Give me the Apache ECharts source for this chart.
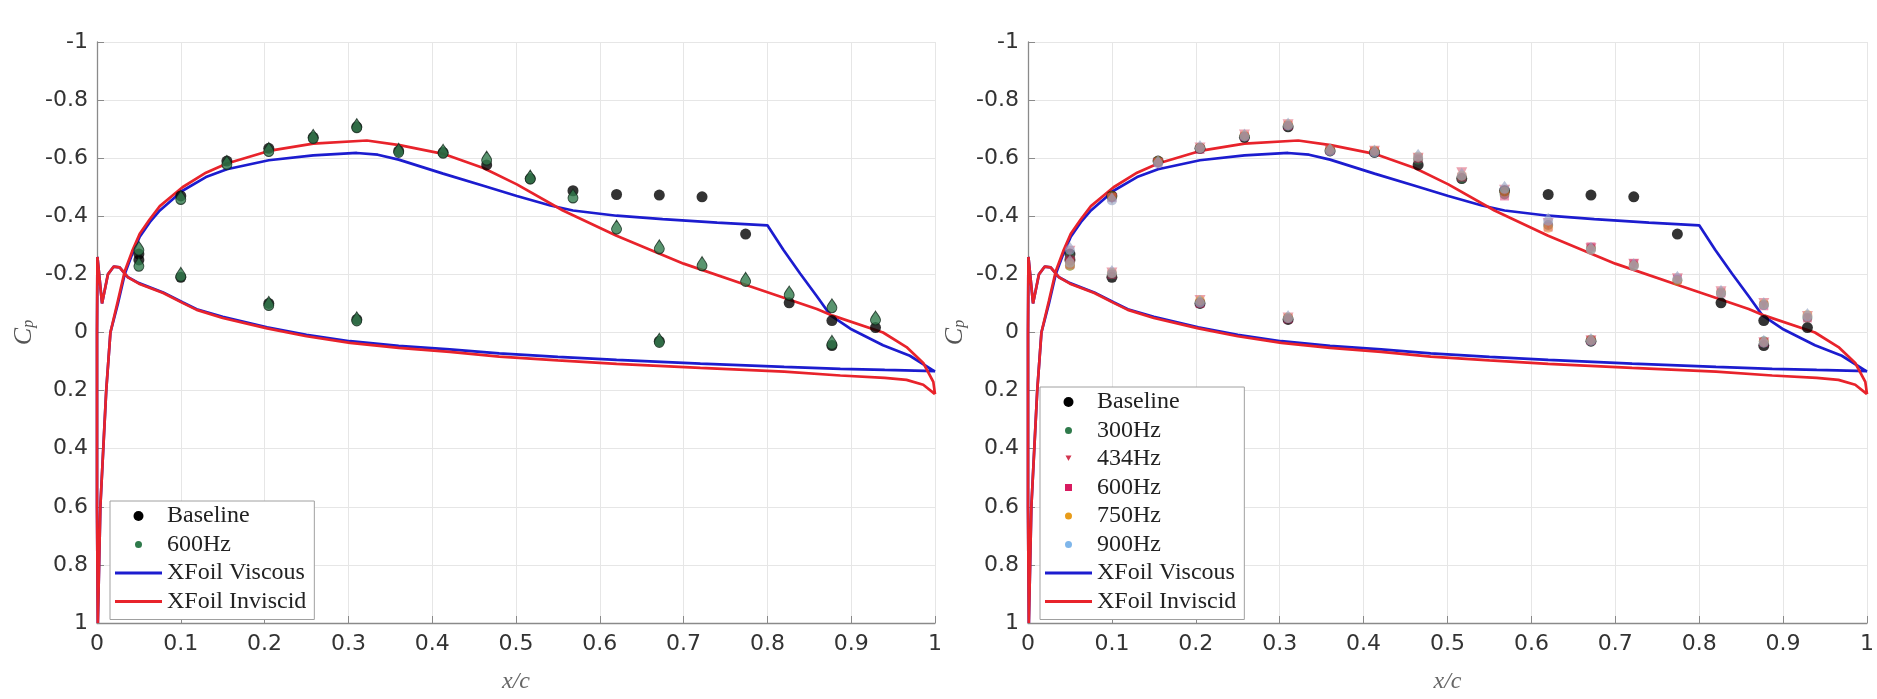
<!DOCTYPE html>
<html><head><meta charset="utf-8">
<script src="https://cdn.jsdelivr.net/npm/echarts@6/dist/echarts.min.js"></script>
<style>html,body{margin:0;padding:0;background:#fff}#c{width:1877px;height:699px}</style>
</head><body><div id="c"></div>
<script>
// ---- axes ----
const xTicks = [0, 0.1, 0.2, 0.3, 0.4, 0.5, 0.6, 0.7, 0.8, 0.9, 1];
const yTicks = [-1, -0.8, -0.6, -0.4, -0.2, 0, 0.2, 0.4, 0.6, 0.8, 1];

// ---- pressure tap locations (x/c) ----
const tapXUpper = [0.05, 0.1, 0.155, 0.205, 0.258, 0.31, 0.36, 0.413, 0.465, 0.517, 0.568, 0.62, 0.671, 0.722, 0.774, 0.826, 0.877, 0.929];
const tapXLower = [0.05, 0.1, 0.205, 0.31, 0.671, 0.877];

// ---- experimental Cp ----
const baselineUpper = [-0.27, -0.47, -0.59, -0.634, -0.672, -0.708, -0.625, -0.62, -0.577, -0.53, -0.488, -0.475, -0.473, -0.467, -0.339, -0.102, -0.041, -0.017];
const baselineLower = [-0.25, -0.19, -0.10, -0.045, 0.03, 0.045];

const hz600LeftUpper = [-0.29, -0.465, -0.585, -0.63, -0.675, -0.712, -0.627, -0.624, -0.60, -0.535, -0.47, -0.363, -0.295, -0.237, -0.183, -0.136, -0.092, -0.05];
const hz600LeftLower = [-0.235, -0.20, -0.10, -0.047, 0.027, 0.034];

const hz300Upper = [-0.26, -0.465, -0.585, -0.632, -0.675, -0.712, -0.628, -0.622, -0.595, -0.53, -0.475, -0.37, -0.29, -0.232, -0.18, -0.135, -0.095, -0.05];
const hz300Lower = [-0.23, -0.20, -0.105, -0.05, 0.025, 0.03];
const hz434Upper = [-0.28, -0.46, -0.58, -0.635, -0.68, -0.715, -0.625, -0.624, -0.60, -0.55, -0.49, -0.375, -0.288, -0.235, -0.185, -0.14, -0.10, -0.055];
const hz434Lower = [-0.24, -0.205, -0.11, -0.05, 0.028, 0.035];
const hz600Upper = [-0.25, -0.465, -0.585, -0.63, -0.675, -0.712, -0.627, -0.624, -0.60, -0.535, -0.47, -0.363, -0.295, -0.237, -0.183, -0.136, -0.092, -0.05];
const hz600Lower = [-0.235, -0.20, -0.10, -0.047, 0.027, 0.034];
const hz750Upper = [-0.24, -0.47, -0.59, -0.636, -0.678, -0.716, -0.63, -0.626, -0.605, -0.54, -0.485, -0.36, -0.285, -0.23, -0.178, -0.138, -0.098, -0.06];
const hz750Lower = [-0.23, -0.205, -0.11, -0.052, 0.026, 0.033];
const hz900Upper = [-0.29, -0.46, -0.588, -0.64, -0.68, -0.718, -0.63, -0.625, -0.61, -0.545, -0.50, -0.39, -0.29, -0.234, -0.19, -0.142, -0.10, -0.062];
const hz900Lower = [-0.245, -0.21, -0.108, -0.055, 0.024, 0.03];

// ---- XFoil Cp distributions (upper surface LE->TE, lower surface LE->TE) ----
const viscUpperX  = [0.001, 0.004, 0.011, 0.016, 0.025, 0.033, 0.042, 0.051, 0.063, 0.075, 0.102, 0.13, 0.155, 0.205, 0.258, 0.31, 0.335, 0.36, 0.413, 0.461, 0.501, 0.541, 0.568, 0.62, 0.675, 0.74, 0.80, 0.819, 0.839, 0.859, 0.875, 0.899, 0.938, 0.97, 1.0];
const viscUpperCp = [1.0, 0.6, 0.2, 0.0, -0.1, -0.2, -0.27, -0.33, -0.38, -0.42, -0.488, -0.535, -0.562, -0.593, -0.61, -0.618, -0.612, -0.595, -0.547, -0.505, -0.47, -0.437, -0.42, -0.402, -0.39, -0.378, -0.369, -0.285, -0.203, -0.125, -0.06, -0.013, 0.044, 0.08, 0.135];
const viscLowerX  = [0.001, 0.0, 0.0, 0.0005, 0.006, 0.013, 0.02, 0.027, 0.037, 0.05, 0.079, 0.102, 0.119, 0.15, 0.203, 0.25, 0.302, 0.36, 0.421, 0.48, 0.55, 0.62, 0.72, 0.82, 0.887, 0.94, 1.0];
const viscLowerCp = [1.0, 0.6, 0.0, -0.26, -0.10, -0.2, -0.227, -0.224, -0.19, -0.17, -0.138, -0.104, -0.08, -0.054, -0.018, 0.008, 0.03, 0.046, 0.058, 0.072, 0.084, 0.094, 0.107, 0.118, 0.125, 0.129, 0.133];

const invUpperX  = [0.001, 0.004, 0.011, 0.016, 0.025, 0.033, 0.042, 0.051, 0.063, 0.075, 0.102, 0.13, 0.155, 0.205, 0.258, 0.322, 0.361, 0.413, 0.461, 0.501, 0.556, 0.62, 0.70, 0.779, 0.859, 0.878, 0.938, 0.966, 0.986, 0.998, 1.0];
const invUpperCp = [1.0, 0.6, 0.2, 0.0, -0.11, -0.21, -0.28, -0.34, -0.39, -0.435, -0.50, -0.55, -0.582, -0.625, -0.65, -0.661, -0.645, -0.615, -0.566, -0.51, -0.42, -0.333, -0.237, -0.159, -0.081, -0.058, 0.0, 0.05, 0.105, 0.17, 0.212];
const invLowerX  = [0.001, 0.0, 0.0, 0.0005, 0.006, 0.013, 0.02, 0.027, 0.037, 0.05, 0.079, 0.102, 0.119, 0.15, 0.203, 0.25, 0.302, 0.36, 0.421, 0.48, 0.55, 0.62, 0.72, 0.82, 0.887, 0.94, 0.966, 0.986, 1.0];
const invLowerCp = [1.0, 0.6, 0.0, -0.26, -0.10, -0.2, -0.227, -0.224, -0.19, -0.168, -0.136, -0.102, -0.078, -0.05, -0.014, 0.013, 0.036, 0.053, 0.067, 0.083, 0.096, 0.108, 0.122, 0.135, 0.148, 0.156, 0.163, 0.18, 0.212];

// ---- helpers ----
function pts(xs, ys) { return xs.map((x, i) => [x, ys[i]]); }
function taps(up, lo) { return pts(tapXUpper, up).concat(pts(tapXLower, lo)); }
function loop(ux, uc, lx, lc) { return pts(ux, uc).reverse().concat(pts(lx, lc)); }

const viscousData = loop(viscUpperX, viscUpperCp, viscLowerX, viscLowerCp);
const inviscidData = loop(invUpperX, invUpperCp, invLowerX, invLowerCp);

const BLUE = '#1c1ccf', RED = '#e8232b';
const GREEN = '#2f7a4b';
const tear = 'path://M5,0 C6.5,3 10,6 10,9 A5,5 0 1,1 0,9 C0,6 3.5,3 5,0 Z';
const lineIcon = 'path://M0,0H47V3H0Z';
const squareIcon = 'path://M0,0H10V10H0Z';
const serif = 'Liberation Serif';
const sans = 'DejaVu Sans';

function xAxis(grid) {
  return {
    type: 'value', gridIndex: grid, min: xTicks[0], max: xTicks[xTicks.length - 1], interval: 0.1,
    name: 'x/c', nameLocation: 'middle', nameGap: 47,
    nameTextStyle: { fontFamily: serif, fontStyle: 'italic', fontSize: 24, color: '#666' },
    axisLine: { show: true, onZero: false, lineStyle: { color: '#8a8a8a', width: 1.3 } },
    axisTick: { show: true, inside: true, length: 7, lineStyle: { color: '#8a8a8a' } },
    axisLabel: { fontFamily: sans, fontSize: 22, color: '#333', margin: 10 },
    splitLine: { show: true, lineStyle: { color: '#e6e6e6', width: 1 } }
  };
}
function yAxis(grid) {
  return {
    type: 'value', gridIndex: grid, min: yTicks[0], max: yTicks[yTicks.length - 1], interval: 0.2, inverse: true,
    name: '{c|C}{p|p}', nameLocation: 'middle', nameGap: 60,
    nameTextStyle: {
      color: '#555',
      rich: {
        c: { fontFamily: serif, fontStyle: 'italic', fontSize: 26, color: '#555', lineHeight: 26, verticalAlign: 'top' },
        p: { fontFamily: serif, fontStyle: 'italic', fontSize: 16, color: '#555', lineHeight: 16, verticalAlign: 'bottom' }
      }
    },
    axisLine: { show: true, onZero: false, lineStyle: { color: '#8a8a8a', width: 1.3 } },
    axisTick: { show: true, inside: true, length: 7, lineStyle: { color: '#8a8a8a' } },
    axisLabel: { fontFamily: sans, fontSize: 22, color: '#333', margin: 9 },
    splitLine: { show: true, lineStyle: { color: '#e6e6e6', width: 1 } }
  };
}
function lineSeries(name, data, color, idx) {
  return { name, type: 'line', xAxisIndex: idx, yAxisIndex: idx, data, color, showSymbol: false, symbol: 'none',
    smooth: false, lineStyle: { color, width: 2.7 }, z: 3, silent: true, animation: false };
}
function scatter(name, data, idx, style) {
  return Object.assign({ name, type: 'scatter', xAxisIndex: idx, yAxisIndex: idx, data, z: 4, silent: true, animation: false }, style);
}

const legendCommon = {
  orient: 'vertical', itemWidth: 47, itemHeight: 10, itemGap: 4.5, padding: [3, 8, 6, 5],
  borderColor: '#a0a0a0', borderWidth: 1, backgroundColor: '#fff', selectedMode: false,
  textStyle: { fontFamily: serif, fontSize: 24, lineHeight: 24, color: '#222' }
};
const smallDot = (c) => ({ color: c, borderColor: '#fff', borderWidth: 3, opacity: 1 });

const option = {
  animation: false,
  backgroundColor: '#fff',
  grid: [
    { left: 97, right: 942, top: 42, bottom: 67 },
    { left: 1028, right: 10, top: 42, bottom: 67 }
  ],
  xAxis: [xAxis(0), xAxis(1)],
  yAxis: [yAxis(0), yAxis(1)],
  legend: [
    Object.assign({}, legendCommon, {
      left: 110, top: 501,
      data: [
        { name: 'Baseline', icon: 'circle', itemStyle: { color: '#000', borderWidth: 0, opacity: 1 } },
        { name: '600Hz', icon: 'circle', itemStyle: smallDot(GREEN) },
        { name: 'XFoil Viscous', icon: lineIcon, itemStyle: { color: BLUE, borderWidth: 0 } },
        { name: 'XFoil Inviscid', icon: lineIcon, itemStyle: { color: RED, borderWidth: 0 } }
      ]
    }),
    Object.assign({}, legendCommon, {
      left: 1040, top: 387,
      data: [
        { name: 'Baseline', icon: 'circle', itemStyle: { color: '#000', borderWidth: 0, opacity: 1 } },
        { name: '300Hz', icon: 'circle', itemStyle: smallDot(GREEN) },
        { name: '434Hz', icon: 'path://M0,0H10L5,9Z', itemStyle: smallDot('#d2344f') },
        { name: '600Hz', icon: squareIcon, itemStyle: smallDot('#d81b60') },
        { name: '750Hz', icon: 'circle', itemStyle: smallDot('#e89c1a') },
        { name: '900Hz', icon: 'circle', itemStyle: smallDot('#7fb6ea') },
        { name: 'XFoil Viscous', icon: lineIcon, itemStyle: { color: BLUE, borderWidth: 0 } },
        { name: 'XFoil Inviscid', icon: lineIcon, itemStyle: { color: RED, borderWidth: 0 } }
      ]
    })
  ],
  series: [
    // left panel
    lineSeries('XFoil Viscous', viscousData, BLUE, 0),
    lineSeries('XFoil Inviscid', inviscidData, RED, 0),
    scatter('Baseline', taps(baselineUpper, baselineLower), 0, { symbol: 'circle', symbolSize: 11, itemStyle: { color: '#000' } }),
    scatter('600Hz', taps(hz600LeftUpper, hz600LeftLower), 0, { symbol: tear, symbolSize: [10, 14], itemStyle: { color: GREEN, borderColor: '#13281b', borderWidth: 1 } }),
    // right panel
    lineSeries('XFoil Viscous', viscousData, BLUE, 1),
    lineSeries('XFoil Inviscid', inviscidData, RED, 1),
    scatter('Baseline', taps(baselineUpper, baselineLower), 1, { symbol: 'circle', symbolSize: 11, itemStyle: { color: '#000' } }),
    scatter('300Hz', taps(hz300Upper, hz300Lower), 1, { symbol: 'circle', symbolSize: 10, itemStyle: { color: GREEN, opacity: 0.55 } }),
    scatter('434Hz', taps(hz434Upper, hz434Lower), 1, { symbol: 'triangle', symbolRotate: 180, symbolSize: 11, itemStyle: { color: '#d2344f', opacity: 0.45 } }),
    scatter('600Hz', taps(hz600Upper, hz600Lower), 1, { symbol: 'rect', symbolSize: 9, itemStyle: { color: '#d81b60', opacity: 0.45 } }),
    scatter('750Hz', taps(hz750Upper, hz750Lower), 1, { symbol: 'circle', symbolSize: 10, itemStyle: { color: '#e89c1a', opacity: 0.4 } }),
    scatter('900Hz', taps(hz900Upper, hz900Lower), 1, { symbol: tear, symbolSize: [10, 13], itemStyle: { color: '#98a6c4', opacity: 0.65 } })
  ]
};

const chart = echarts.init(document.getElementById('c'), null, { renderer: 'canvas' });
chart.setOption(option);
</script>
</body></html>
